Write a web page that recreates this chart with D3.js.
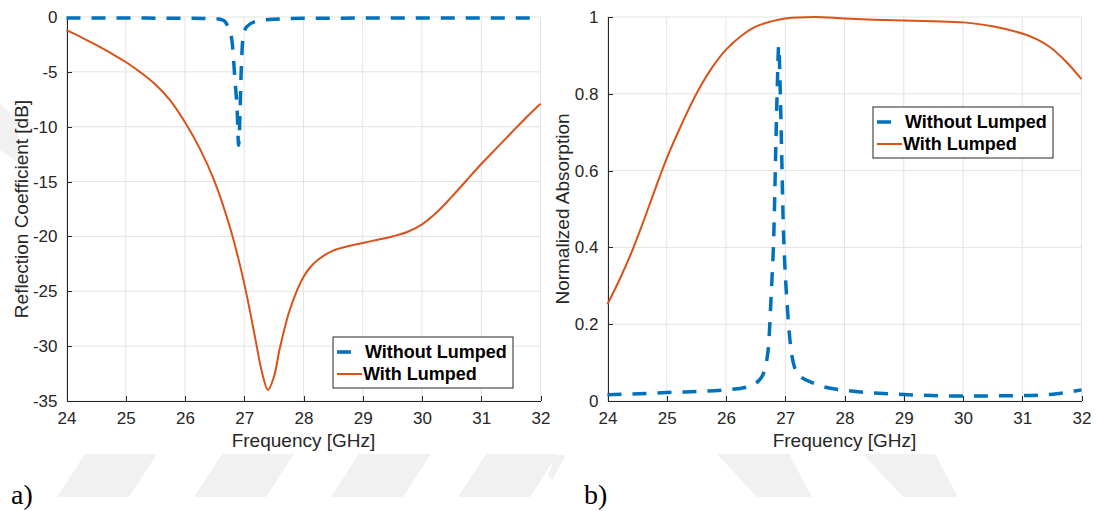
<!DOCTYPE html>
<meta charset="utf-8">
<style>
body {
  margin: 0;
  background: #fff;
}
.grid line {
  stroke: #e3e3e3;
  stroke-width: 1px;
}
.axis path, .axis line {
  stroke: #262626;
  shape-rendering: crispEdges;
}
.axis text {
  fill: #262626;
  font-family: "Liberation Sans", Arial, sans-serif;
  font-size: 17px;
}
.axlabel {
  fill: #262626;
  font-family: "Liberation Sans", Arial, sans-serif;
  font-size: 19px;
}
.legend text {
  font-family: "Liberation Sans", Arial, sans-serif;
  font-size: 18px;
  font-weight: bold;
  fill: #000;
}
.panel-id {
  font-family: "Liberation Serif", "Times New Roman", serif;
  font-size: 28px;
  fill: #000;
}
.mark {
  fill: #f1f1f1;
}
</style>
<body>
<script src="https://cdn.jsdelivr.net/npm/d3@7"></script>
<script>
var width = 1098,
    height = 511;

// frequency ticks shared by both panels
var freqTicks = [24, 25, 26, 27, 28, 29, 30, 31, 32];
var reflTicks = [0, -5, -10, -15, -20, -25, -30, -35];
var absTicks = [0, 0.2, 0.4, 0.6, 0.8, 1];

// a) reflection coefficient [dB]
var reflFreqNo = [24, 25, 26, 26.5, 26.65, 26.72, 26.76, 26.8, 26.84, 26.88, 26.905, 26.93, 26.945, 26.96, 26.98, 27.04, 27.2, 27.5, 28, 29, 30, 31, 32];
var reflNo = [-0.1, -0.1, -0.12, -0.15, -0.3, -0.8, -1.3, -2.5, -5.5, -8.5, -11.7, -8.5, -5.5, -3.4, -1.8, -0.9, -0.4, -0.2, -0.12, -0.1, -0.1, -0.1, -0.1];
var reflFreqLumped = [24, 24.25, 24.5, 24.75, 25, 25.25, 25.5, 25.75, 26, 26.25, 26.5, 26.75, 26.9, 27, 27.1, 27.2, 27.3, 27.4, 27.5, 27.6, 27.75, 27.9, 28, 28.1, 28.25, 28.5, 28.75, 29, 29.25, 29.5, 29.75, 30, 30.25, 30.5, 30.75, 31, 31.25, 31.5, 31.75, 32];
var reflLumped = [-1.2, -1.85, -2.55, -3.3, -4.1, -5.05, -6.15, -7.6, -9.6, -12.0, -15.0, -19.0, -22.0, -24.3, -26.9, -29.7, -32.4, -34.0, -32.8, -30.2, -27.0, -24.8, -23.7, -22.9, -22.1, -21.3, -20.9, -20.6, -20.3, -20.0, -19.6, -18.9, -17.8, -16.4, -14.9, -13.4, -12.0, -10.6, -9.2, -7.9];

// b) normalized absorption
var absFreqNo = [24, 25, 26, 26.39, 26.6, 26.71, 26.77, 26.8, 26.86, 26.89, 26.92, 26.97, 26.99, 27.04, 27.1, 27.21, 27.5, 28, 29, 30, 31, 31.58, 32];
var absNo = [0.016, 0.022, 0.029, 0.038, 0.062, 0.131, 0.3, 0.4, 0.784, 0.925, 0.78, 0.44, 0.364, 0.234, 0.131, 0.071, 0.045, 0.028, 0.017, 0.013, 0.014, 0.019, 0.029];
var absFreqLumped = [24, 24.2, 24.4, 24.6, 24.8, 25, 25.25, 25.5, 25.75, 26, 26.25, 26.5, 26.75, 27, 27.5, 28, 28.5, 29, 29.5, 30, 30.5, 31, 31.25, 31.5, 31.75, 32];
var absLumped = [0.252, 0.315, 0.385, 0.465, 0.55, 0.632, 0.72, 0.8, 0.865, 0.915, 0.95, 0.975, 0.988, 0.996, 1.0, 0.996, 0.993, 0.991, 0.989, 0.986, 0.976, 0.957, 0.942, 0.918, 0.882, 0.838];

var seriesNames = ["Without Lumped", "With Lumped"];
var colors = ["#0072bd", "#d95319"];

var svg = d3.select("body").append("svg")
    .attr("width", width)
    .attr("height", height);

// faint watermark shapes behind everything
var marks = svg.append("g");
[57, 194, 331, 458].forEach(function(x0) {
  marks.append("path").attr("class", "mark")
      .attr("d", "M" + x0 + ",497L" + (x0 + 72) + ",497L" + (x0 + 100) + ",454L" + (x0 + 28) + ",454Z");
});
[717, 863].forEach(function(x0) {
  marks.append("path").attr("class", "mark")
      .attr("d", "M" + x0 + ",454L" + (x0 + 72) + ",454L" + (x0 + 95) + ",497L" + (x0 + 40) + ",497Z");
});
marks.append("path").attr("class", "mark").attr("d", "M0,104L18,120L18,162L0,150Z");
marks.append("path").attr("class", "mark").attr("d", "M548,475L556,455L566,455L552,480Z");

function panel(opt) {
  var x = d3.scaleLinear().domain([24, 32]).range([opt.left, opt.right]);
  var y = d3.scaleLinear().domain(opt.domain).range([opt.bottom, opt.top]);
  var g = svg.append("g");

  g.append("g").attr("class", "grid")
    .selectAll("line").data(freqTicks).enter().append("line")
      .attr("x1", x).attr("x2", x)
      .attr("y1", opt.top).attr("y2", opt.bottom);
  g.append("g").attr("class", "grid")
    .selectAll("line").data(opt.ticks).enter().append("line")
      .attr("x1", opt.left).attr("x2", opt.right)
      .attr("y1", y).attr("y2", y);

  g.append("g").attr("class", "axis")
      .attr("transform", "translate(0," + opt.bottom + ")")
      .call(d3.axisBottom(x).tickValues(freqTicks).tickSizeInner(-5).tickSizeOuter(0).tickPadding(11).tickFormat(d3.format("d")));
  g.append("g").attr("class", "axis")
      .attr("transform", "translate(" + opt.left + ",0)")
      .call(d3.axisLeft(y).tickValues(opt.ticks).tickSizeInner(-5).tickSizeOuter(0).tickPadding(9).tickFormat(function(d) { return String(d); }));
  g.selectAll(".axis").attr("font-size", null).attr("font-family", null);

  g.append("text").attr("class", "axlabel")
      .attr("x", (opt.left + opt.right) / 2).attr("y", opt.bottom + 46)
      .attr("text-anchor", "middle")
      .text("Frequency [GHz]");
  g.append("text").attr("class", "axlabel")
      .attr("transform", "translate(" + opt.ylabelX + "," + (opt.top + opt.bottom) / 2 + ")rotate(-90)")
      .attr("text-anchor", "middle")
      .text(opt.ylabel);

  var dashLine = d3.line()
      .x(function(d) { return x(d[0]); })
      .y(function(d) { return y(d[1]); })
      .curve(d3.curveMonotoneX);
  var smoothLine = d3.line()
      .x(function(d) { return x(d[0]); })
      .y(function(d) { return y(d[1]); })
      .curve(d3.curveCatmullRom.alpha(0.5));

  g.append("path")
      .datum(d3.zip(opt.freqNo, opt.valNo))
      .attr("fill", "none")
      .attr("stroke", colors[0])
      .attr("stroke-width", 3.5)
      .attr("stroke-dasharray", "14,11")
      .attr("d", dashLine);
  g.append("path")
      .datum(d3.zip(opt.freqLumped, opt.valLumped))
      .attr("fill", "none")
      .attr("stroke", colors[1])
      .attr("stroke-width", 2)
      .attr("d", smoothLine);

  var lg = g.append("g").attr("class", "legend")
      .attr("transform", "translate(" + opt.legend[0] + "," + opt.legend[1] + ")");
  lg.append("rect")
      .attr("width", 180).attr("height", 51)
      .attr("fill", "#fff").attr("stroke", "#262626").attr("stroke-width", 1);
  lg.append("line")
      .attr("x1", 4).attr("x2", 18).attr("y1", 15).attr("y2", 15)
      .attr("stroke", colors[0]).attr("stroke-width", 3.5);
  lg.append("line")
      .attr("x1", 4).attr("x2", 29).attr("y1", 37).attr("y2", 37)
      .attr("stroke", colors[1]).attr("stroke-width", 2);
  lg.selectAll("text").data(seriesNames).enter().append("text")
      .attr("x", function(d, i) { return i ? 30 : 32; })
      .attr("y", function(d, i) { return i ? 43 : 21; })
      .text(function(d) { return d; });
}

panel({
  left: 66.5, right: 540.5, top: 17, bottom: 401,
  domain: [-35, 0], ticks: reflTicks,
  ylabel: "Reflection Coefficient [dB]", ylabelX: 28,
  freqNo: reflFreqNo, valNo: reflNo,
  freqLumped: reflFreqLumped, valLumped: reflLumped,
  legend: [333, 337]
});

panel({
  left: 607.5, right: 1081.5, top: 17, bottom: 401,
  domain: [0, 1], ticks: absTicks,
  ylabel: "Normalized Absorption", ylabelX: 569,
  freqNo: absFreqNo, valNo: absNo,
  freqLumped: absFreqLumped, valLumped: absLumped,
  legend: [873, 107]
});

svg.append("text").attr("class", "panel-id").attr("x", 11).attr("y", 504).text("a)");
svg.append("text").attr("class", "panel-id").attr("x", 584).attr("y", 504).text("b)");
</script>
